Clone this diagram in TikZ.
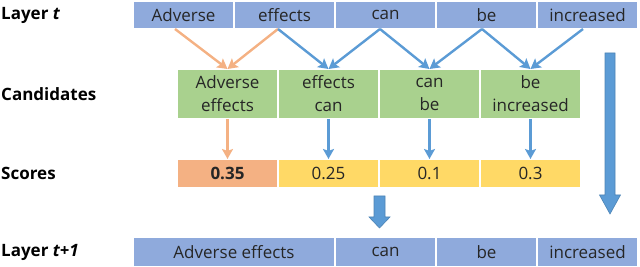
\documentclass[tikz,border=0pt]{standalone}
\usepackage{fontspec}
\setmainfont{Open Sans}
\usetikzlibrary{positioning,arrows.meta}

\definecolor{layerblue}{HTML}{8FAADC}
\definecolor{candgreen}{HTML}{A9D18E}
\definecolor{scoreyellow}{HTML}{FFD966}
\definecolor{scoreorange}{HTML}{F4B183}
\definecolor{arrblue}{HTML}{5B9BD5}
\definecolor{txt}{HTML}{262626}

\tikzset{
  tok/.style={fill=layerblue, draw=white, line width=1.5pt, outer sep=0pt, inner sep=0pt,
    minimum width=101pt, minimum height=28pt, text=txt, font=\fontsize{17}{20}\selectfont},
  cand/.style={tok, fill=candgreen, minimum height=50pt, align=center, font=\fontsize{17}{23}\selectfont},
  score/.style={tok, fill=scoreyellow, minimum height=29pt},
  rowlabel/.style={anchor=west, inner sep=0pt, text=black, font=\bfseries\fontsize{17}{20}\selectfont},
  barr/.style={draw=arrblue, line width=2.4pt, -{Stealth[length=10pt, width=11pt, inset=2pt]}},
  oarr/.style={barr, draw=scoreorange},
  blockarr/.style={fill=arrblue, draw=arrblue!85!black, line width=0.6pt}
}

\begin{document}
\begin{tikzpicture}[x=1pt, y=1pt]
\useasboundingbox (0,0) rectangle (640,267);

% row labels
\node[rowlabel] (lt) at (1,252) {Layer \textit{t}};
\node[rowlabel] (lc) at (1,173) {Candidates};
\node[rowlabel] (ls) at (1,93.5) {Scores};
\node[rowlabel] (ln) at (1,15) {Layer \textit{t+1}};

% layer t
\node[tok, anchor=west] (t1) at (133,252) {Adverse};
\node[tok, right=0pt of t1] (t2) {effects};
\node[tok, right=0pt of t2] (t3) {can};
\node[tok, right=0pt of t3] (t4) {be};
\node[tok, right=0pt of t4] (t5) {increased};

% candidates
\node[cand, anchor=west] (c1) at (177,173) {Adverse\\effects};
\node[cand, right=0pt of c1] (c2) {effects\\can};
\node[cand, right=0pt of c2] (c3) {can\\be};
\node[cand, right=0pt of c3] (c4) {be\\increased};

% scores
\node[score, fill=scoreorange, anchor=west] (s1) at (177,93.5) {\textbf{0.35}};
\node[score, right=0pt of s1] (s2) {0.25};
\node[score, right=0pt of s2] (s3) {0.1};
\node[score, right=0pt of s3] (s4) {0.3};

% layer t+1
\node[tok, anchor=west, minimum width=202pt, minimum height=29pt] (n1) at (133,15) {Adverse effects};
\node[tok, minimum height=29pt, right=0pt of n1] (n2) {can};
\node[tok, minimum height=29pt, right=0pt of n2] (n3) {be};
\node[tok, minimum height=29pt, right=0pt of n3] (n4) {increased};

% pairs
\draw[oarr] ([xshift=-8.5pt]t1.south) -- (c1.north);
\draw[oarr] ([xshift=-6.5pt]t2.south) -- (c1.north);
\draw[barr] ([xshift=-6.5pt]t2.south) -- (c2.north);
\draw[barr] ([xshift=-5.5pt]t3.south) -- (c2.north);
\draw[barr] ([xshift=-5.5pt]t3.south) -- (c3.north);
\draw[barr] ([xshift=-4.5pt]t4.south) -- (c3.north);
\draw[barr] ([xshift=-4.5pt]t4.south) -- (c4.north);
\draw[barr] ([xshift=-4.5pt]t5.south) -- (c4.north);

% scoring
\draw[oarr] (c1.south) -- (s1.north);
\draw[barr] (c2.south) -- (s2.north);
\draw[barr] (c3.south) -- (s3.north);
\draw[barr] (c4.south) -- (s4.north);

% block arrows
\filldraw[blockarr] (605,214) -- (615,214) -- (615,72) -- (620.5,72) -- (610,53)
  -- (599.5,72) -- (605,72) -- cycle;
\filldraw[blockarr] (374,71) -- (385,71) -- (385,50) -- (390,50) -- (379.5,39)
  -- (369,50) -- (374,50) -- cycle;
\end{tikzpicture}
\end{document}
